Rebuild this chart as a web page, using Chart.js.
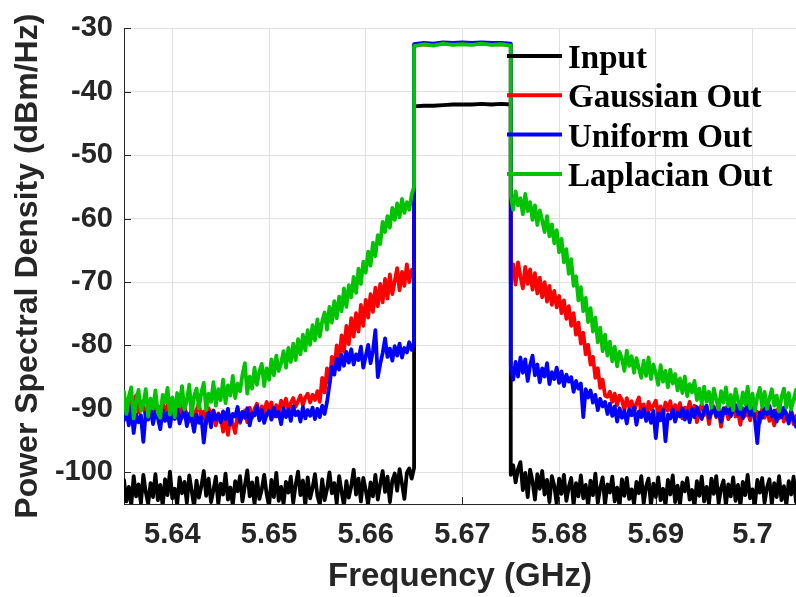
<!DOCTYPE html>
<html>
<head>
<meta charset="utf-8">
<script src="https://cdn.jsdelivr.net/npm/chart.js@4.4.1/dist/chart.umd.min.js"></script>
<style>
  html, body { margin: 0; padding: 0; background: #ffffff; }
  #wrap { width: 796px; height: 597px; }
</style>
</head>
<body>
<div id="wrap"><canvas id="c" width="796" height="597"></canvas></div>
<script>
// ---------- DATA ----------
const seriesLabels = ['Input', 'Gaussian Out', 'Uniform Out', 'Laplacian Out'];
const seriesColors = ['#000000', '#ff0000', '#0000ff', '#00c400'];

// frequency grid (GHz)
const lowStart = 5.635;   // lower skirt: 5.635 .. 5.665
const bandStart = 5.665;  // in-band: 5.665 .. 5.675
const highStart = 5.675;  // upper skirt: 5.675 .. 5.705
const skirtStep = 0.00025;
const bandStep = 0.001;

// Input (dBm/Hz)
const inputLow = [
 -101.2,-104.6,-102.3,-105.2,-100.6,-103.8,-101.9,-104.9,-100.4,-103.1,
 -105.0,-101.7,-103.9,-100.3,-104.4,-102.0,-105.3,-101.1,-103.6,-99.9,
 -104.1,-102.6,-105.1,-100.8,-103.3,-101.5,-104.8,-100.5,-102.9,-105.4,
 -101.3,-104.0,-102.2,-99.8,-103.7,-101.0,-104.7,-102.8,-100.7,-105.0,
 -101.8,-103.5,-100.2,-104.3,-102.4,-105.2,-101.4,-103.0,-100.6,-104.6,
 -102.1,-99.7,-103.8,-101.6,-105.1,-100.9,-104.2,-102.7,-100.4,-103.4,
 -105.3,-101.2,-103.9,-100.1,-104.5,-102.3,-105.0,-101.5,-103.2,-100.7,
 -104.8,-102.0,-99.9,-103.6,-101.3,-105.2,-100.8,-104.1,-102.5,-100.3,
 -103.7,-105.1,-101.1,-104.4,-102.6,-100.0,-103.3,-101.7,-104.9,-100.6,
 -103.0,-105.3,-101.4,-104.0,-102.2,-99.6,-103.5,-101.0,-104.6,-100.9,
 -102.8,-105.0,-101.6,-103.8,-100.4,-104.3,-101.9,-99.8,-103.1,-100.7,
 -104.7,-101.3,-100.2,-102.9,-99.5,-101.8,-104.2,-100.1,-99.4,-101.0,
 -99.3];
const inputBand = [-42.3,-42.2,-42.2,-42.1,-42.0,-42.0,-42.0,-41.9,-42.0,-41.9,-42.0];
const inputHigh = [
 -100.4,-98.9,-101.6,-99.5,-98.4,-102.8,-100.1,-103.9,-99.6,-101.4,
 -104.3,-100.3,-102.6,-99.8,-103.5,-101.2,-104.7,-100.6,-102.1,-105.0,
 -101.0,-103.4,-100.4,-104.5,-102.3,-100.9,-105.2,-101.7,-103.8,-100.5,
 -104.1,-102.0,-105.3,-101.3,-103.6,-100.2,-104.8,-102.5,-100.8,-105.1,
 -101.9,-103.2,-100.7,-104.6,-102.4,-105.4,-101.1,-103.7,-100.9,-104.2,
 -102.7,-105.0,-101.5,-103.3,-100.6,-104.9,-102.2,-101.0,-105.2,-101.8,
 -103.9,-100.8,-104.4,-102.6,-105.3,-101.2,-103.5,-100.5,-104.7,-102.1,
 -105.1,-101.6,-103.0,-100.9,-104.3,-102.8,-105.4,-101.4,-103.7,-100.7,
 -104.6,-102.3,-105.0,-101.0,-103.4,-100.6,-104.9,-102.5,-101.3,-105.2,
 -101.9,-103.8,-100.8,-104.5,-102.0,-105.3,-101.5,-103.6,-100.4,-104.1,
 -102.7,-105.1,-101.2,-103.2,-100.9,-104.8,-102.4,-101.1,-105.0,-101.7,
 -103.9,-100.6,-104.4,-102.2,-105.2,-101.4,-103.5,-100.7,-104.7,-102.0,
 -103.1];

// Gaussian Out
const gaussLow = [
 -88.0,-89.9,-88.6,-90.4,-89.0,-87.9,-90.6,-88.8,-89.7,-91.1,
 -89.2,-90.5,-88.7,-91.3,-89.6,-90.1,-88.9,-91.0,-89.4,-90.8,
 -89.5,-91.2,-90.0,-88.8,-91.4,-89.7,-90.9,-92.0,-89.6,-91.5,
 -90.2,-89.1,-91.7,-90.4,-92.3,-89.9,-91.0,-90.3,-92.6,-90.7,
 -91.3,-93.6,-90.8,-94.1,-91.2,-92.4,-93.8,-90.9,-92.2,-91.0,
 -90.3,-92.1,-89.8,-91.4,-90.0,-89.2,-91.1,-89.6,-90.7,-88.9,
 -90.1,-89.0,-91.2,-89.4,-90.6,-88.7,-89.8,-88.4,-90.2,-89.1,
 -88.3,-89.6,-88.8,-87.9,-89.4,-88.2,-87.6,-89.0,-87.8,-88.6,
 -87.2,-88.9,-85.1,-87.4,-83.6,-86.0,-81.8,-84.1,-80.0,-82.5,
 -78.4,-81.0,-76.9,-79.8,-75.7,-78.6,-74.9,-77.8,-73.6,-76.9,
 -72.8,-75.6,-71.9,-74.7,-70.9,-73.8,-70.3,-73.2,-69.5,-72.6,
 -68.8,-71.9,-69.9,-67.8,-71.3,-68.4,-70.6,-67.2,-70.0,-68.1,
 -67.9];
const gaussBand = [-32.7,-32.5,-32.6,-32.4,-32.5,-32.4,-32.5,-32.4,-32.5,-32.5,-32.6];
const gaussHigh = [
 -69.8,-67.2,-70.4,-66.9,-69.1,-71.0,-67.6,-70.3,-68.0,-71.2,
 -68.6,-71.8,-69.3,-72.4,-70.0,-73.1,-70.6,-73.6,-71.4,-74.0,
 -72.2,-74.9,-72.9,-75.8,-73.8,-76.9,-74.9,-78.3,-76.4,-79.7,
 -78.0,-81.4,-79.9,-83.0,-81.8,-85.1,-83.6,-86.7,-85.4,-87.9,
 -88.1,-87.3,-88.9,-87.6,-89.4,-87.9,-88.6,-90.2,-88.3,-89.7,
 -88.8,-90.5,-89.1,-88.2,-90.6,-89.3,-91.4,-88.9,-90.1,-89.5,
 -88.7,-90.8,-89.6,-91.2,-89.0,-90.3,-88.8,-91.0,-89.4,-90.6,
 -89.1,-91.5,-89.8,-90.4,-88.9,-90.9,-89.5,-92.1,-90.2,-89.3,
 -91.0,-89.7,-92.4,-90.3,-89.6,-91.3,-90.0,-92.8,-90.5,-89.8,
 -91.6,-90.1,-89.4,-91.2,-90.6,-92.5,-89.9,-91.1,-90.4,-91.8,
 -89.7,-91.3,-90.5,-92.2,-90.0,-91.4,-89.8,-91.9,-90.6,-92.6,
 -90.2,-91.5,-89.9,-92.0,-90.7,-91.8,-90.3,-92.4,-91.1,-91.7,
 -91.9];

// Uniform Out
const uniformLow = [
 -91.8,-90.3,-92.6,-89.6,-93.8,-90.9,-92.1,-91.0,-95.2,-90.6,
 -91.7,-89.8,-92.4,-90.5,-91.4,-93.2,-90.2,-91.9,-90.7,-92.8,
 -90.4,-91.6,-89.9,-92.3,-91.0,-90.1,-92.7,-90.8,-91.5,-93.6,
 -90.9,-92.2,-91.3,-95.3,-91.8,-90.6,-92.9,-90.3,-91.7,-90.9,
 -92.1,-90.4,-91.6,-90.0,-92.5,-90.8,-91.2,-89.7,-92.0,-90.5,
 -91.4,-89.9,-92.6,-90.7,-91.0,-89.6,-91.8,-90.2,-92.2,-90.9,
 -90.3,-91.7,-89.8,-91.2,-90.5,-92.4,-89.9,-91.3,-90.1,-91.9,
 -89.6,-91.0,-90.4,-92.0,-89.7,-91.5,-90.2,-91.1,-89.8,-91.6,
 -90.0,-91.3,-89.5,-90.8,-88.9,-86.2,-83.4,-84.6,-82.1,-83.8,
 -81.5,-83.2,-81.0,-82.7,-80.6,-83.0,-81.4,-82.3,-80.2,-83.5,
 -81.7,-79.9,-82.8,-80.8,-77.6,-85.0,-82.9,-81.2,-78.9,-81.8,
 -80.5,-82.4,-80.1,-81.6,-79.7,-81.9,-80.4,-81.1,-79.5,-80.7,
 -79.6];
const uniformBand = [-32.5,-32.3,-32.4,-32.2,-32.3,-32.2,-32.3,-32.2,-32.3,-32.3,-32.4];
const uniformHigh = [
 -83.2,-85.4,-82.6,-84.9,-81.9,-84.3,-82.2,-85.6,-83.1,-81.6,
 -84.7,-83.0,-85.8,-83.6,-84.9,-82.8,-86.1,-84.2,-85.3,-83.5,
 -85.9,-84.1,-86.4,-84.6,-85.7,-85.0,-87.3,-85.6,-86.8,-86.0,
 -91.3,-86.9,-88.2,-87.1,-89.0,-87.8,-90.2,-88.4,-89.6,-88.9,
 -90.8,-89.2,-91.1,-89.6,-92.0,-89.9,-91.4,-90.3,-92.3,-90.1,
 -91.0,-89.8,-92.5,-90.4,-91.3,-90.0,-91.9,-90.6,-92.2,-90.3,
 -94.6,-90.7,-91.8,-90.2,-95.1,-90.9,-91.5,-90.1,-92.0,-90.6,
 -91.2,-89.9,-91.7,-90.4,-92.1,-90.0,-91.3,-89.7,-90.8,-91.6,
 -90.2,-89.5,-91.4,-90.6,-89.8,-91.1,-90.3,-92.0,-89.9,-90.7,
 -89.6,-91.2,-90.0,-89.4,-90.9,-89.7,-91.5,-90.2,-89.3,-91.0,
 -89.8,-91.7,-95.4,-90.6,-91.4,-89.9,-90.8,-89.5,-91.2,-90.3,
 -92.0,-90.1,-91.3,-89.8,-90.9,-92.3,-90.4,-91.6,-92.8,-91.0,
 -91.8];

// Laplacian Out
const laplaceLow = [
 -87.3,-90.8,-88.1,-86.6,-91.5,-88.9,-87.0,-90.3,-89.2,-86.9,
 -91.2,-88.4,-89.9,-87.1,-90.6,-91.4,-87.8,-89.0,-86.7,-90.9,
 -88.2,-91.3,-87.5,-89.6,-86.4,-90.1,-88.7,-86.2,-91.0,-88.0,
 -86.8,-89.9,-87.4,-85.9,-90.2,-87.6,-88.9,-85.8,-89.5,-86.9,
 -88.6,-85.4,-89.1,-86.3,-87.9,-84.8,-88.3,-86.0,-87.2,-84.6,
 -82.8,-87.6,-84.9,-86.8,-83.5,-86.2,-84.1,-82.9,-86.4,-83.6,
 -85.4,-82.2,-84.7,-81.6,-84.0,-82.8,-80.9,-83.5,-80.4,-82.6,
 -79.7,-82.3,-79.0,-81.4,-78.3,-80.8,-77.6,-79.9,-76.8,-79.2,
 -75.9,-78.6,-76.2,-74.8,-77.5,-73.9,-76.4,-73.0,-75.7,-72.3,
 -74.6,-71.0,-73.9,-70.5,-72.4,-69.2,-71.7,-67.9,-70.3,-66.8,
 -68.5,-65.2,-67.4,-63.8,-65.9,-62.6,-64.0,-60.5,-62.1,-59.6,
 -61.4,-58.3,-60.2,-57.6,-59.8,-56.9,-59.1,-57.4,-58.6,-56.2,
 -55.0];
const laplaceBand = [-32.8,-32.5,-32.7,-32.4,-32.6,-32.5,-32.6,-32.4,-32.6,-32.5,-32.7];
const laplaceHigh = [
 -56.4,-58.6,-55.7,-57.9,-56.8,-59.3,-56.1,-58.8,-57.4,-60.2,
 -57.9,-61.0,-58.7,-60.3,-62.1,-59.6,-62.8,-60.9,-63.9,-61.8,
 -65.3,-63.2,-66.9,-64.8,-68.7,-66.4,-70.6,-69.1,-72.9,-70.8,
 -74.6,-72.5,-76.3,-74.1,-77.8,-75.6,-79.5,-77.2,-80.9,-78.3,
 -81.6,-79.4,-82.5,-80.2,-83.3,-81.0,-82.1,-84.0,-80.8,-83.2,
 -81.7,-84.3,-82.0,-83.6,-85.1,-82.4,-84.8,-81.9,-85.3,-83.0,
 -84.4,-86.2,-83.1,-85.7,-84.0,-86.6,-83.8,-86.0,-84.5,-87.1,
 -85.2,-87.5,-84.9,-88.0,-86.1,-87.4,-85.6,-88.6,-86.8,-89.2,
 -86.5,-88.9,-87.3,-89.8,-86.8,-88.5,-90.1,-87.2,-89.0,-86.6,
 -89.6,-87.8,-90.2,-86.9,-88.7,-90.0,-87.4,-89.3,-86.5,-89.9,
 -87.6,-90.3,-88.1,-86.7,-89.7,-87.3,-90.0,-88.4,-86.9,-89.5,
 -87.9,-90.4,-88.2,-86.8,-89.8,-87.5,-90.1,-88.6,-87.0,-89.6,
 -88.2];

// axes
const xMin = 5.635, xMax = 5.7045;
const yMin = -105, yMax = -30;
const xTickValues = [5.64, 5.65, 5.66, 5.67, 5.68, 5.69, 5.70];
const xTickLabels = ['5.64', '5.65', '5.66', '5.67', '5.68', '5.69', '5.7'];
const yTickValues = [-100, -90, -80, -70, -60, -50, -40, -30];
const yTickLabels = ['-100', '-90', '-80', '-70', '-60', '-50', '-40', '-30'];

// ---------- BUILD ----------
function seg(start, step, vals) {
  return vals.map((v, i) => ({ x: start + i * step, y: v }));
}
function series(low, band, high) {
  return seg(lowStart, skirtStep, low)
    .concat(seg(bandStart, bandStep, band))
    .concat(seg(highStart, skirtStep, high));
}
const allSeries = [
  series(inputLow, inputBand, inputHigh),
  series(gaussLow, gaussBand, gaussHigh),
  series(uniformLow, uniformBand, uniformHigh),
  series(laplaceLow, laplaceBand, laplaceHigh)
];

const AXIS_COLOR = '#262626';
const SANS = "'Liberation Sans', Arial, Helvetica, sans-serif";

const inwardTicks = {
  id: 'inwardTicks',
  beforeDatasetsDraw(chart) {
    const { ctx, chartArea, scales } = chart;
    const len = 7;
    ctx.save();
    ctx.strokeStyle = AXIS_COLOR;
    ctx.lineWidth = 1;
    ctx.beginPath();
    scales.x.ticks.forEach(t => {
      const px = Math.round(scales.x.getPixelForValue(t.value)) + 0.5;
      ctx.moveTo(px, chartArea.bottom);
      ctx.lineTo(px, chartArea.bottom - len);
    });
    scales.y.ticks.forEach(t => {
      const py = Math.round(scales.y.getPixelForValue(t.value)) + 0.5;
      ctx.moveTo(chartArea.left, py);
      ctx.lineTo(chartArea.left + len, py);
    });
    ctx.stroke();
    ctx.restore();
  }
};

const matlabLegend = {
  id: 'matlabLegend',
  afterDatasetsDraw(chart) {
    const { ctx } = chart;
    const lineX0 = 507, lineX1 = 562, textX = 568, top = 56, step = 39.3;
    ctx.save();
    chart.data.datasets.forEach((ds, i) => {
      const y = top + i * step;
      ctx.strokeStyle = ds.borderColor;
      ctx.lineWidth = 4;
      ctx.lineCap = 'butt';
      ctx.beginPath();
      ctx.moveTo(lineX0, y);
      ctx.lineTo(lineX1, y);
      ctx.stroke();
      ctx.fillStyle = '#000000';
      ctx.font = "bold 33px 'Liberation Serif', 'Times New Roman', serif";
      ctx.textAlign = 'left';
      ctx.textBaseline = 'alphabetic';
      ctx.fillText(ds.label, textX, y + 12);
    });
    ctx.restore();
  }
};

new Chart(document.getElementById('c'), {
  type: 'line',
  data: {
    datasets: allSeries.map((pts, i) => ({
      label: seriesLabels[i],
      data: pts,
      borderColor: seriesColors[i],
      backgroundColor: seriesColors[i],
      borderWidth: 3.8,
      pointRadius: 0,
      tension: 0,
      fill: false,
      borderJoinStyle: 'round',
      borderCapStyle: 'round',
      order: 4 - i
    }))
  },
  options: {
    responsive: false,
    animation: false,
    devicePixelRatio: 1,
    layout: { padding: { top: 19, right: 0, left: 0, bottom: 0 } },
    plugins: {
      legend: { display: false },
      tooltip: { enabled: false },
      title: { display: false }
    },
    scales: {
      x: {
        type: 'linear',
        min: xMin,
        max: xMax,
        afterBuildTicks: s => { s.ticks = xTickValues.map(v => ({ value: v })); },
        afterFit: s => { s.height = 93; },
        grid: { color: '#e0e0e0', lineWidth: 1, drawTicks: false },
        border: { display: true, color: AXIS_COLOR, width: 1 },
        ticks: {
          padding: 14,
          maxRotation: 0,
          autoSkip: false,
          color: AXIS_COLOR,
          font: { family: SANS, size: 29, weight: 'bold' },
          callback: (v, i) => xTickLabels[i]
        },
        title: {
          display: true,
          text: 'Frequency (GHz)',
          color: AXIS_COLOR,
          font: { family: SANS, size: 33, weight: 'bold' },
          padding: { top: 0, bottom: 0 }
        }
      },
      y: {
        type: 'linear',
        min: yMin,
        max: yMax,
        afterBuildTicks: s => { s.ticks = yTickValues.map(v => ({ value: v })); },
        afterFit: s => { s.width = 124; },
        grid: { color: '#e0e0e0', lineWidth: 1, drawTicks: false },
        border: { display: true, color: AXIS_COLOR, width: 1 },
        ticks: {
          padding: 11,
          autoSkip: false,
          color: AXIS_COLOR,
          font: { family: SANS, size: 29, weight: 'bold' },
          callback: (v, i) => yTickLabels[i]
        },
        title: {
          display: true,
          text: 'Power Spectral Density (dBm/Hz)',
          color: AXIS_COLOR,
          font: { family: SANS, size: 32, weight: 'bold' },
          padding: { top: 9, bottom: 0 }
        }
      }
    }
  },
  plugins: [inwardTicks, matlabLegend]
});
</script>
</body>
</html>
